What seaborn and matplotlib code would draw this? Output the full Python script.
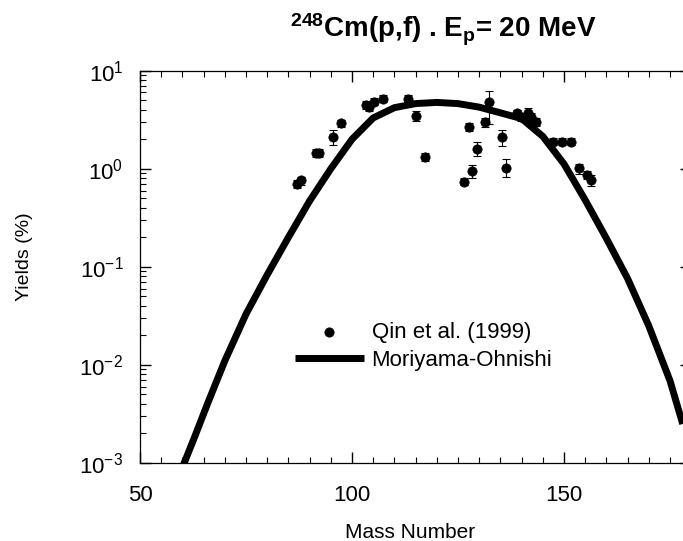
import numpy as np
import seaborn as sns
import matplotlib.pyplot as plt
from matplotlib.ticker import MultipleLocator, LogLocator

# measured fission yields, Qin et al. (1999)
mass_data = [87.0, 88.0, 91.5, 92.2, 95.4, 97.4, 103.3, 104.0, 105.2, 107.2,
             113.1, 115.1, 117.2, 126.3, 127.5, 128.4, 129.5, 131.4, 132.4, 135.3,
             136.3, 139.0, 139.9, 141.4, 142.2, 143.4, 147.5, 149.6, 151.6, 153.5,
             155.4, 156.4]
yield_data = [0.70, 0.76, 1.46, 1.46, 2.09, 2.90, 4.47, 4.30, 4.83, 5.20,
              5.20, 3.45, 1.33, 0.74, 2.68, 0.95, 1.59, 2.97, 4.83, 2.09,
              1.03, 3.67, 3.40, 3.67, 3.40, 3.00, 1.89, 1.89, 1.89, 1.01,
              0.86, 0.77]
err_lo = [0.06, 0.07, 0.13, 0.13, 0.35, 0.25, 0.40, 0.40, 0.40, 0.40,
          0.45, 0.40, 0.12, 0.06, 0.25, 0.15, 0.25, 0.30, 2.00, 0.38,
          0.21, 0.35, 0.30, 0.40, 0.30, 0.30, 0.15, 0.15, 0.15, 0.12,
          0.08, 0.10]
err_hi = [0.06, 0.07, 0.13, 0.13, 0.38, 0.25, 0.40, 0.40, 0.40, 0.40,
          0.45, 0.40, 0.12, 0.06, 0.25, 0.15, 0.27, 0.30, 1.40, 0.39,
          0.22, 0.35, 0.30, 0.45, 0.30, 0.30, 0.15, 0.15, 0.15, 0.12,
          0.08, 0.10]

# Moriyama-Ohnishi systematics curve
mass_curve = [60, 63, 66, 70, 75, 80, 85, 90, 95, 100, 105, 110, 115, 120,
              125, 130, 135, 140, 145, 150, 155, 160, 165, 170, 175, 178]
yield_curve = [0.0009, 0.0019, 0.0041, 0.011, 0.033, 0.083, 0.20, 0.47, 1.0,
               2.0, 3.3, 4.2, 4.62, 4.75, 4.62, 4.25, 3.72, 3.25, 2.14, 1.12,
               0.48, 0.195, 0.076, 0.025, 0.0069, 0.0025]

sns.set_style("ticks")
plt.rcParams['font.family'] = ['Liberation Sans', 'DejaVu Sans']
plt.rcParams['mathtext.fontset'] = 'custom'
plt.rcParams['mathtext.rm'] = 'Liberation Sans'
plt.rcParams['mathtext.it'] = 'Liberation Sans:italic'
plt.rcParams['mathtext.bf'] = 'Liberation Sans:bold'
plt.rcParams['text.color'] = 'black'
plt.rcParams['axes.labelcolor'] = 'black'

fig = plt.figure(figsize=(6.83, 5.41), dpi=100)
ax = fig.add_axes([0.205, 0.1442, 0.807, 0.7251])

sns.scatterplot(x=mass_data, y=yield_data, ax=ax, color='black', s=45,
                edgecolor='black', linewidth=0.5, zorder=4,
                label='Qin et al. (1999)')
ax.errorbar(mass_data, yield_data, yerr=[err_lo, err_hi], fmt='none',
            ecolor='black', elinewidth=0.8, capsize=3, capthick=0.8, zorder=3)
sns.lineplot(x=mass_curve, y=yield_curve, ax=ax, color='black', linewidth=5,
             zorder=2, label='Moriyama-Ohnishi',
             solid_joinstyle='round', solid_capstyle='butt')

ax.set_yscale('log')
ax.set_xlim(50, 180)
ax.set_ylim(1e-3, 10)
ax.xaxis.set_major_locator(MultipleLocator(50))
ax.xaxis.set_minor_locator(MultipleLocator(5))
ax.yaxis.set_minor_locator(LogLocator(base=10, subs=np.arange(2, 10)))

ax.tick_params(which='both', direction='in', top=True, right=True,
               colors='black', labelcolor='black', labelsize=16)
ax.tick_params(which='major', length=8, width=1)
ax.tick_params(which='minor', length=4, width=0.8)
ax.tick_params(axis='y', pad=12)
ax.tick_params(axis='x', pad=16)
for sp in ax.spines.values():
    sp.set_color('black')
    sp.set_linewidth(0.9)

ax.set_xlabel('Mass Number', fontsize=15, color='black')
ax.set_ylabel('Yields (%)', fontsize=14, color='black')
ax.xaxis.set_label_coords(0.49, -0.153)
ax.yaxis.set_label_coords(-0.194, 0.526)

ax.text(0.55, 1.084, r'$\mathbf{{}^{248}}$Cm(p,f) . E$\mathbf{_p}$= 20 MeV',
        transform=ax.transAxes, ha='center', va='baseline',
        fontsize=20, fontweight='bold', color='black')

handles, labels = ax.get_legend_handles_labels()
leg = ax.legend(handles, labels, loc='center left', bbox_to_anchor=(0.281, 0.297),
                frameon=False, fontsize=16, handlelength=3.1, handletextpad=0.35,
                labelspacing=0.3, borderpad=0, borderaxespad=0)
for t in leg.get_texts():
    t.set_color('black')

fig.savefig('out.png', dpi=100)
